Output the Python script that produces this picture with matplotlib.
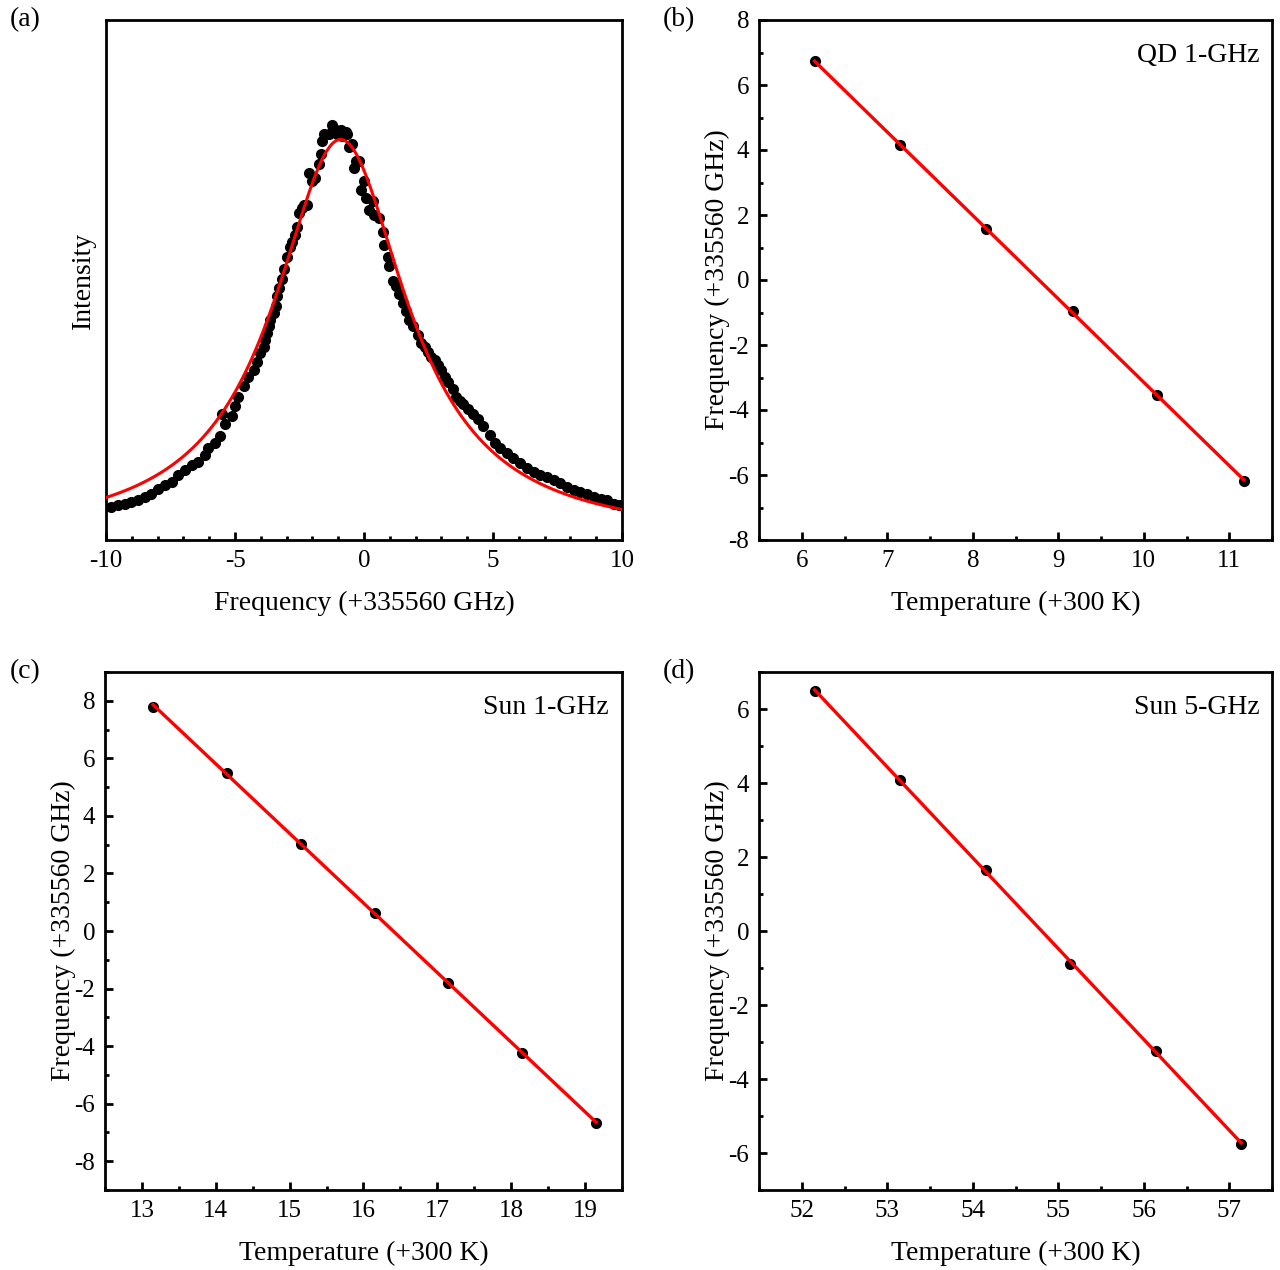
import numpy as np
import matplotlib
matplotlib.use('Agg')
import matplotlib.pyplot as plt
from matplotlib.ticker import MultipleLocator

plt.rcParams['font.family'] = ['Liberation Serif', 'DejaVu Serif']
plt.rcParams['axes.unicode_minus'] = False

# (a) spectrum, frequency offset (GHz) and intensity (arb. units)
spec_x = [-9.80, -9.54, -9.28, -9.02, -8.76, -8.50, -8.24, -7.98, -7.72, -7.46,
          -7.20, -6.94, -6.68, -6.42, -6.17, -6.03, -5.77, -5.58, -5.38, -5.52,
          -5.12, -5.00, -4.87, -4.67, -4.48, -4.28, -4.15, -4.02, -3.89, -3.83,
          -3.76, -3.70, -3.63, -3.50, -3.43, -3.37, -3.30, -3.18, -3.11, -2.98,
          -2.85, -2.78, -2.66, -2.59, -2.53, -2.40, -2.33, -2.20, -2.13, -2.01,
          -1.88, -1.75, -1.68, -1.62, -1.55, -1.36, -1.23, -1.10, -1.03, -0.90,
          -0.84, -0.71, -0.64, -0.58, -0.45, -0.38, -0.32, -0.19, -0.12, 0.01,
          0.07, 0.20, 0.33, 0.40, 0.59, 0.72, 0.79, 0.92, 0.98, 1.11,
          1.24, 1.37, 1.50, 1.63, 1.76, 1.89, 2.09, 2.22, 2.35, 2.48,
          2.61, 2.74, 2.87, 3.00, 3.13, 3.26, 3.45, 3.58, 3.71, 3.84,
          4.03, 4.23, 4.43, 4.62, 4.88, 5.08, 5.27, 5.53, 5.79, 6.05,
          6.31, 6.57, 6.83, 7.09, 7.35, 7.61, 7.87, 8.13, 8.39, 8.65,
          8.91, 9.17, 9.43, 9.69, 9.88]
spec_y = [32.9, 34.6, 36.3, 38.0, 39.7, 43.0, 46.4, 51.5, 54.9, 58.2,
          65.0, 70.1, 75.1, 78.5, 85.3, 92.0, 97.1, 103.9, 115.7, 125.8,
          124.1, 134.3, 142.7, 154.5, 163.0, 169.7, 178.2, 186.6, 193.4, 200.1,
          206.9, 213.6, 220.4, 227.2, 233.9, 244.1, 252.5, 260.9, 271.1, 282.9,
          293.0, 298.1, 304.9, 313.3, 326.8, 331.9, 335.3, 335.3, 367.4, 358.9,
          362.3, 375.8, 385.9, 399.5, 406.2, 406.2, 414.7, 409.6, 406.2, 409.6,
          404.5, 407.9, 406.2, 392.7, 396.1, 372.4, 379.2, 379.2, 350.5, 358.9,
          342.0, 330.2, 338.6, 325.1, 321.8, 308.2, 294.7, 282.9, 274.5, 259.3,
          254.2, 245.7, 237.3, 228.9, 220.4, 213.6, 205.2, 196.8, 193.4, 188.3,
          183.2, 179.9, 174.8, 169.7, 163.0, 157.9, 151.1, 142.7, 139.3, 135.9,
          130.9, 125.8, 120.7, 114.0, 105.5, 97.1, 92.0, 87.0, 81.9, 76.8,
          71.8, 68.4, 65.0, 63.3, 59.9, 56.6, 53.2, 49.8, 48.1, 46.4,
          43.0, 41.4, 39.7, 36.3, 34.6]

# (b)-(d) line centre vs temperature
qd_T = [6.15, 7.15, 8.15, 9.17, 10.15, 11.17]
qd_F = [6.74, 4.14, 1.58, -0.94, -3.53, -6.18]
sun1_T = [13.15, 14.15, 15.16, 16.16, 17.15, 18.15, 19.15]
sun1_F = [7.80, 5.48, 3.01, 0.64, -1.80, -4.24, -6.68]
sun5_T = [52.15, 53.15, 54.15, 55.14, 56.14, 57.14]
sun5_F = [6.49, 4.08, 1.66, -0.88, -3.23, -5.75]

W, H = 1280, 1270
fig = plt.figure(figsize=(12.8, 12.7), dpi=100)


def box(l, r, t, b):
    return [l / W, 1 - b / H, (r - l) / W, (b - t) / H]


def style(ax):
    for s in ax.spines.values():
        s.set_linewidth(2.0)
    ax.tick_params(which='both', direction='in', top=False, right=False,
                   labelsize=18, width=2.0)
    ax.tick_params(which='major', length=6, pad=7)
    ax.tick_params(which='minor', length=3)


# (a)
ax = fig.add_axes(box(106, 622, 20, 540))
ax.plot(spec_x, spec_y, 'o', color='black', ms=7, zorder=2)
# lorentzian fit: 1/y is quadratic in x
p = np.polyfit(spec_x, 1.0 / np.array(spec_y), 2, w=np.array(spec_y) ** 2)
xs = np.linspace(-10, 10, 400)
ax.plot(xs, 1.0 / np.polyval(p, xs), color='red', lw=2.2, zorder=3)
ax.set_xlim(-10, 10)
ax.set_ylim(0, 520)
ax.xaxis.set_major_locator(MultipleLocator(5))
ax.xaxis.set_minor_locator(MultipleLocator(1))
ax.set_yticks([])
style(ax)
ax.set_xlabel('Frequency (+335560 GHz)', fontsize=20, labelpad=14)
ax.set_ylabel('Intensity', fontsize=20, labelpad=7)

panels = [
    (box(759, 1272, 20, 540), qd_T, qd_F, (5.5, 11.5), (-8, 8), 2, 'QD 1-GHz'),
    (box(105, 622, 672, 1190), sun1_T, sun1_F, (12.5, 19.5), (-9, 9), 2, 'Sun 1-GHz'),
    (box(759, 1272, 672, 1190), sun5_T, sun5_F, (51.5, 57.5), (-7, 7), 2, 'Sun 5-GHz'),
]
for rect, T, F, xl, yl, ystep, name in panels:
    ax = fig.add_axes(rect)
    k, c = np.polyfit(T, F, 1)
    tt = np.array([T[0], T[-1]])
    ax.plot(T, F, 'o', color='black', ms=7, zorder=2)
    ax.plot(tt, k * tt + c, color='red', lw=2.4, zorder=3)
    ax.set_xlim(*xl)
    ax.set_ylim(*yl)
    ax.xaxis.set_major_locator(MultipleLocator(1))
    ax.xaxis.set_minor_locator(MultipleLocator(0.5))
    ax.yaxis.set_major_locator(MultipleLocator(ystep))
    ax.yaxis.set_minor_locator(MultipleLocator(1))
    style(ax)
    ax.set_xlabel('Temperature (+300 K)', fontsize=20, labelpad=14)
    ax.set_ylabel('Frequency (+335560 GHz)', fontsize=20, labelpad=-1)
    ax.text(0.975, 0.955, name, transform=ax.transAxes, ha='right', va='top',
            fontsize=20)

for lab, x, y in [('(a)', 10, 20), ('(b)', 663, 20), ('(c)', 10, 672), ('(d)', 663, 672)]:
    fig.text(x / W, 1 - y / H, lab, fontsize=20, va='center', ha='left')

fig.savefig('out.png', dpi=100)
